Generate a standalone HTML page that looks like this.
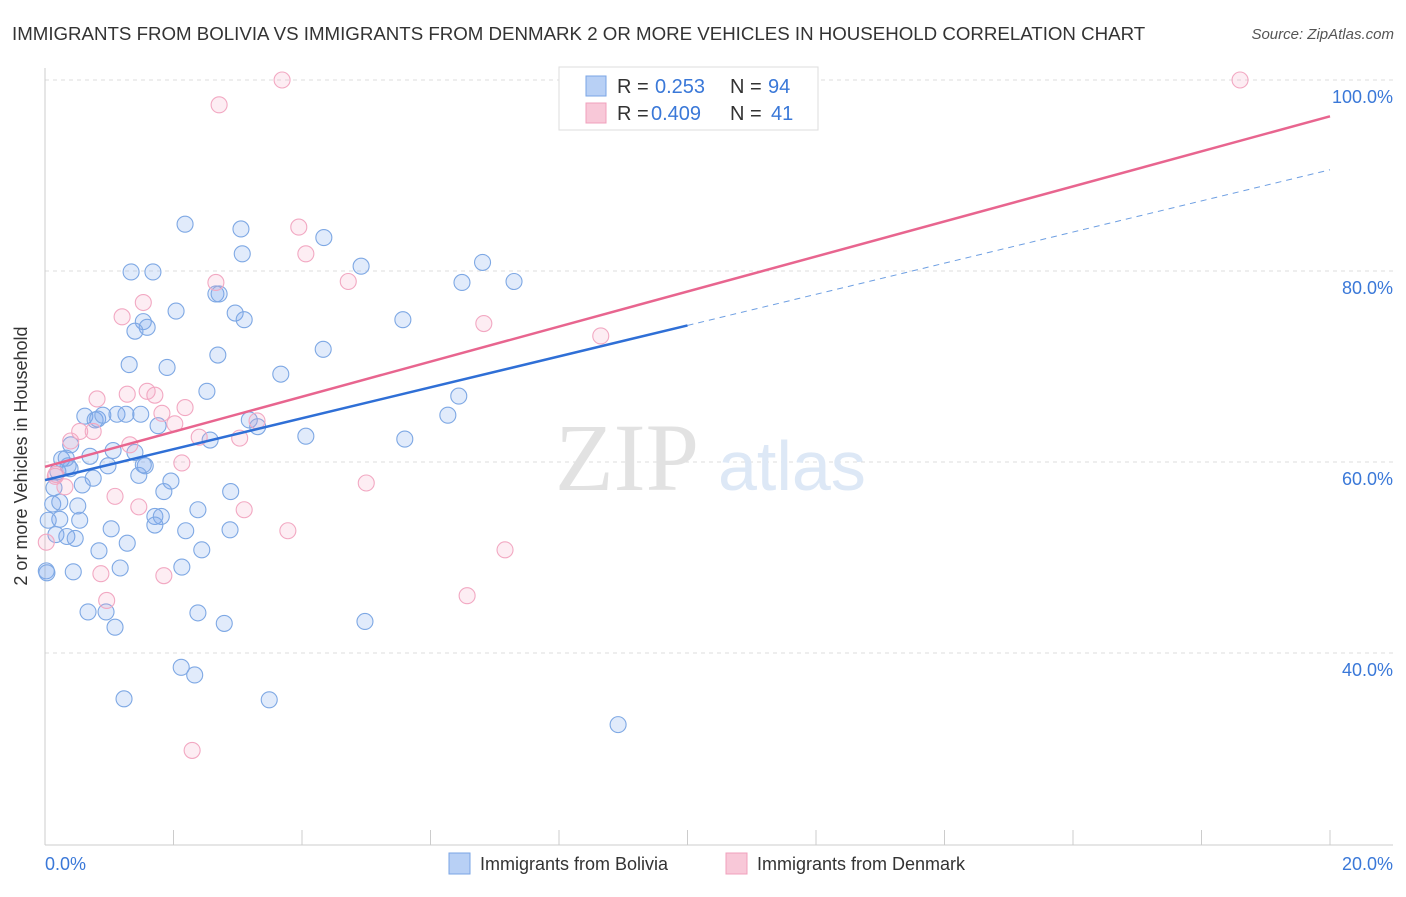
<!DOCTYPE html>
<html><head><meta charset="utf-8"><style>
body{margin:0;background:#fff;font-family:"Liberation Sans",sans-serif}
</style></head><body>
<svg id="c" width="1406" height="892" xmlns="http://www.w3.org/2000/svg">
<text x="12" y="40" font-size="18.7" fill="#333">IMMIGRANTS FROM BOLIVIA VS IMMIGRANTS FROM DENMARK 2 OR MORE VEHICLES IN HOUSEHOLD CORRELATION CHART</text>
<text x="1394" y="39" font-size="15" fill="#555" font-style="italic" text-anchor="end">Source: ZipAtlas.com</text>
<text x="27" y="456" font-size="18" fill="#333" text-anchor="middle" transform="rotate(-90 27 456)">2 or more Vehicles in Household</text>
<g id="grid"></g>
<text x="555" y="490" font-size="96" fill="#e2e2e2" font-family="Liberation Serif">ZIP</text>
<text x="718" y="490" font-size="70" fill="#dde8f6">atlas</text>
<g id="pts"></g>
<g id="lines"></g>
<rect x="559" y="67" width="259" height="63" fill="#fff" stroke="#ddd"/>
<rect x="586" y="76" width="20" height="20" fill="#b8d0f5" stroke="#7aa5e5"/>
<rect x="586" y="103" width="20" height="20" fill="#f8c8d8" stroke="#f0a0bc"/>
<g font-size="20">
<text x="617" y="93" fill="#333">R = </text><text x="655" y="93" fill="#3a78d8">0.253</text>
<text x="730" y="93" fill="#333">N = </text><text x="768" y="93" fill="#3a78d8">94</text>
<text x="617" y="120" fill="#333">R = </text><text x="651" y="120" fill="#3a78d8">0.409</text>
<text x="730" y="120" fill="#333">N = </text><text x="771" y="120" fill="#3a78d8">41</text>
</g>
<text x="45" y="870" font-size="18" fill="#3a78d8">0.0%</text>
<text x="1393" y="870" font-size="18" fill="#3a78d8" text-anchor="end">20.0%</text>
<rect x="449" y="853" width="21" height="21" fill="#b8d0f5" stroke="#7aa5e5"/>
<text x="480" y="870" font-size="18" fill="#333">Immigrants from Bolivia</text>
<rect x="726" y="853" width="21" height="21" fill="#f8c8d8" stroke="#f0a0bc"/>
<text x="757" y="870" font-size="18" fill="#333">Immigrants from Denmark</text>
</svg>
<script>
const yTicks=[100,80,60,40];
const xTicks=[0,2,4,6,8,10,12,14,16,18,20];
const boliviaX=[2.18,3.05,3.07,4.34,4.92,6.81,7.30,6.49,1.34,1.68,2.04,2.66,2.71,2.96,3.10,1.53,1.59,1.40,5.57,1.31,1.90,2.69,4.33,3.67,2.52,6.44,6.27,0.62,0.78,0.82,0.90,1.12,1.26,1.49,1.76,3.18,3.31,4.06,5.60,2.57,0.40,0.70,1.06,1.40,0.26,0.36,0.98,1.56,0.75,1.46,1.96,0.58,1.85,0.14,0.12,0.51,0.23,0.54,0.05,0.17,0.34,0.47,1.03,1.71,1.81,1.71,2.38,2.89,2.19,2.88,0.84,1.28,2.44,2.13,1.17,0.44,0.02,0.67,0.95,1.09,2.38,2.79,4.98,2.12,2.33,1.23,3.49,8.92,0.03,0.23,0.20,1.53,0.33,0.39];
const boliviaY=[84.9,84.4,81.8,83.5,80.5,80.9,78.9,78.8,79.9,79.9,75.8,77.6,77.6,75.6,74.9,74.7,74.1,73.7,74.9,70.2,69.9,71.2,71.8,69.2,67.4,66.9,64.9,64.8,64.4,64.5,64.9,65.0,65.0,65.0,63.8,64.4,63.7,62.7,62.4,62.3,61.8,60.6,61.2,61.0,60.3,59.6,59.6,59.6,58.3,58.6,58.0,57.6,56.9,57.3,55.6,55.4,54.0,53.9,53.9,52.4,52.2,52.0,53.0,54.3,54.3,53.4,55.0,56.9,52.8,52.9,50.7,51.5,50.8,49.0,48.9,48.5,48.6,44.3,44.3,42.7,44.2,43.1,43.3,38.5,37.7,35.2,35.1,32.5,48.4,55.8,59.0,59.7,60.4,59.3];
const denmarkX=[3.69,18.60,2.71,3.95,4.06,4.72,2.66,1.53,1.20,6.83,8.65,1.28,1.59,1.71,0.81,2.18,1.82,2.02,3.30,2.40,3.03,0.54,0.75,0.40,1.32,2.13,0.17,5.00,1.09,1.46,3.10,3.78,7.16,0.87,1.85,6.57,0.96,2.29,0.02,0.16,0.31];
const denmarkY=[100.0,100.0,97.4,84.6,81.8,78.9,78.8,76.7,75.2,74.5,73.2,67.1,67.4,67.0,66.6,65.7,65.1,64.0,64.3,62.6,62.5,63.2,63.2,62.2,61.8,59.9,58.7,57.8,56.4,55.3,55.0,52.8,50.8,48.3,48.1,46.0,45.5,29.8,51.6,58.5,57.4];
const boliviaTrend=[[0,58.1],[10,74.3]];
const boliviaDash=[[10,74.3],[20,90.6]];
const denmarkTrend=[[0,59.5],[20,96.2]];
const NS="http://www.w3.org/2000/svg";
const X=v=>45+v/20*1285;
const Y=v=>80+(100-v)*9.55;
function mk(t,a,p){const e=document.createElementNS(NS,t);for(const k in a)e.setAttribute(k,a[k]);p.appendChild(e);return e;}
const grid=document.getElementById('grid');
yTicks.forEach(t=>{
 const l=mk('line',{x1:45,x2:1393,y1:Y(t),y2:Y(t),stroke:'#ddd','stroke-dasharray':'4,4'},grid);
 
 
 const tx=mk('text',{x:1393,y:Y(t)+23,'font-size':18,fill:'#3a78d8','text-anchor':'end'},grid);
 tx.textContent=t.toFixed(1)+'%';
 
 
});
const ax=mk('line',{x1:45,x2:1393,y1:845,y2:845,stroke:'#ccc'},grid);


const ay=mk('line',{x1:45,x2:45,y1:68,y2:845,stroke:'#ccc'},grid);


xTicks.forEach(t=>{
 const l=mk('line',{x1:X(t),x2:X(t),y1:830,y2:845,stroke:'#ccc'},grid);
 
 
});
const pts=document.getElementById('pts');
boliviaX.forEach((x,i)=>{
 const c=mk('circle',{cx:X(x),cy:Y(boliviaY[i]),r:8,fill:'rgba(120,165,235,0.22)',stroke:'#7ea8e4','stroke-width':1.1},pts);
 
 
});
denmarkX.forEach((x,i)=>{
 const c=mk('circle',{cx:X(x),cy:Y(denmarkY[i]),r:8,fill:'rgba(245,165,195,0.2)',stroke:'#f2a8c2','stroke-width':1.1},pts);
 
 
});
const lines=document.getElementById('lines');
const bl=mk('line',{x1:X(boliviaTrend[0][0]),y1:Y(boliviaTrend[0][1]),x2:X(boliviaTrend[1][0]),y2:Y(boliviaTrend[1][1]),stroke:'#2f6fd6','stroke-width':2.5},lines);


const bd=mk('line',{x1:X(boliviaDash[0][0]),y1:Y(boliviaDash[0][1]),x2:X(boliviaDash[1][0]),y2:Y(boliviaDash[1][1]),stroke:'#6e9fe2','stroke-width':1,'stroke-dasharray':'6,5'},lines);


const dl=mk('line',{x1:X(denmarkTrend[0][0]),y1:Y(denmarkTrend[0][1]),x2:X(denmarkTrend[1][0]),y2:Y(denmarkTrend[1][1]),stroke:'#e8658f','stroke-width':2.5},lines);


</script>
</body></html>
